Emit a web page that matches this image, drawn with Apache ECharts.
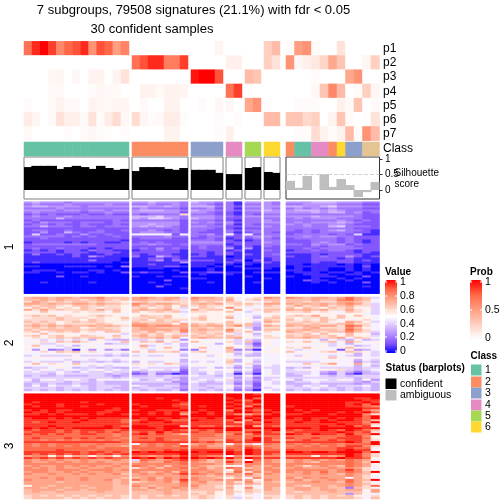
<!DOCTYPE html>
<html><head><meta charset="utf-8">
<style>html,body{margin:0;padding:0;background:#fff}#c{width:504px;height:504px}</style>
<script src="https://cdn.jsdelivr.net/npm/echarts@6/dist/echarts.min.js"></script>
</head><body><div id="c"></div>
<script>
// ---------- data ----------
var titleLine1 = '7 subgroups, 79508 signatures (21.1%) with fdr < 0.05';
var titleLine2 = '30 confident samples';
var groupSizes = [13, 7, 4, 2, 2, 2, 11];
var probLabels = ['p1','p2','p3','p4','p5','p6','p7'];
var p1 = [.7,.9,1,.85,.6,.75,.8,.9,.55,.8,.75,.5,.62, 0,0,0,0,0,0,0, 0,0,0,.05, 0,0, 0,0, .25,.35, .02,.5,.55,.03,0,0,.15,0,0,0,0];
var p2 = [0,0,0,0,0,0,0,0,0,0,0,0,0, .7,.8,.9,.9,.65,.65,.85, 0,0,0,0, .08,.08, 0,0, .25,.15, .55,.04,.08,.12,.22,.45,.3,0,0,.05,.25];
var p3 = [0,0,0,.04,.05,0,.04,0,.06,.06,0,.06,.15, 0,0,0,0,0,0,0, .95,1,1,.8, 0,0, .35,.3, 0,0, 0,0,0,.02,0,0,0,.45,.55,0,0];
var p4 = [0,0,0,.03,.03,0,0,0,.02,.04,.03,.03,0, 0,.06,.06,.03,.06,.06,.05, 0,0,0,0, .7,.85, 0,0, 0,0, 0,0,0,.04,.3,.6,.35,0,.02,.25,.05];
var p5 = [.02,0,0,.03,.06,.03,.03,0,.06,.04,.03,.05,.05, 0,.03,0,0,.06,.06,0, 0,.02,0,.04, .04,0, .45,.55, .01,0, 0,.02,.02,.02,0,0,.07,.03,.3,0,.03];
var p6 = [.1,.05,0,.03,.15,.08,.08,.03,.15,.02,.1,.18,.04, .18,.05,.02,.03,.1,.1,.02, 0,0,0,.02, 0,.02, 0,0, .35,.35, .3,.3,.2,.25,0,.06,.3,.03,0,.01,.15];
var p7 = [.03,0,0,0,0,.02,0,.03,.04,.02,.01,0,.02, 0,0,0,0,.06,.06,0, 0,0,0,.02, .08,0, 0,0, 0,0, 0,.02,.02,.18,.06,.02,.06,.35,.02,.55,.35];
var probRows = [p1,p2,p3,p4,p5,p6,p7];
var sampleClass = [1,1,1,1,1,1,1,1,1,1,1,1,1, 2,2,2,2,2,2,2, 3,3,3,3, 4,4, 5,5, 6,6, 2,1,1,4,4,2,6,3,3,7,7];
var silhouette = [.75,.79,.79,.79,.69,.75,.79,.75,.69,.79,.72,.66,.69, .62,.75,.75,.75,.69,.66,.72, .66,.66,.66,.56, .52,.52, .72,.75, .59,.56, .30,.07,.46,0,.52,.10,.36,.16,-.23,-.07,.26];
var valueTicks = ['1','0.8','0.6','0.4','0.2','0'];
var probTicks = ['1','0.5','0'];
var classTicks = ['1','2','3','4','5','6'];
var statusNames = ['confident','ambiguous'];
var blockNames = ['1','2','3'];
// each text row = one band of signatures, one hex digit per sample (value = digit / 15)
var heat1 = [
"4544434444444 4454443 5443 31 44 43 44455544433",
"3433343333433 3343343 4432 31 33 43 33444433322",
"4554444344444 5544543 5553 32 44 44 55445644433",
"3333433333333 3433332 3342 31 33 43 34343433322",
"4444344344344 4555443 5443 32 44 54 45554543333",
"3433333233433 4444442 4432 21 33 44 44454553423",
"2323222322322 3233339 3332 21 32 33 33333333322",
"3433343333333 5556443 4443 32 44 44 44454444322",
"3333533333333 5466543 5443 22 33 33 34344433322",
"2322222222232 3333332 3332 21 33 43 33333343232",
"3243332333233 4444442 4343 42 33 44 34344454322",
"2332322322232 4454442 3332 31 32 33 43433443222",
"3353332332333 4545432 4433 22 33 43 33433563332",
"2222222222222 3333332 3332 21 22 33 33333333222",
"2332232223223 3343232 3322 32 33 33 32323453321",
"2242253233222 3444332 3222 31 23 32 22323333221",
"2622322422322 7777727 3342 72 72 33 23333232611",
"3333323232232 3333433 3233 22 34 43 33434433222",
"2232222222222 2333322 2232 12 23 32 23333323222",
"2222222222221 2222222 3332 21 12 33 22233323212",
"1222212122112 2323222 4444 22 22 43 22234323212",
"2333333332222 3343323 3333 12 22 33 33243442322",
"2222222222222 2222222 2322 21 21 32 22232333222",
"2322322212122 2324232 2322 41 41 22 22323333322",
"1212122132211 1223221 2222 12 11 32 12232332122",
"2222122212221 2222221 2212 21 11 22 22222222121",
"1311212111211 2122211 1212 21 21 23 11121222211",
"1111112142111 3115321 2211 01 11 22 21123224212",
"1111111111110 1122121 1111 11 11 12 11122212111",
"1111111131110 1124132 2221 12 02 12 11122222121",
"1211111111101 1111114 1111 21 11 21 11121122111",
"0000000000000 1121110 1110 10 10 11 11011101010",
"1100011110103 1111221 1101 01 00 11 01111111020",
"0000000000000 0011000 0010 00 11 10 01011001010",
"0111000011010 0000010 0010 00 00 00 11011001010",
"1100101101002 1211002 1122 11 01 11 01110110101",
"0000000000000 0000000 0100 10 00 00 00111001100",
"0000200100000 1001011 0000 00 10 00 10011100020",
"0000000000000 0000000 1100 00 00 10 00010010100",
"0000000000000 0000200 0000 00 00 00 00211001000",
"0010000010000 0010000 0010 00 01 00 00010100020",
"0000000000000 0000100 0000 00 00 00 00000000000",
"0000000000000 0002000 0000 00 00 00 00000000010",
"0000000000000 0000001 0000 00 00 00 00000000000",
"0000000000000 0000000 0000 00 00 00 00000000000",
"0000000000000 0000000 0000 00 00 00 00000000000"
];
var heat2 = [
"abbabbabbcaaa bcbabb6 cbba a7 79 cb cbabbabdba6",
"aababaa9aba9a bbaaba9 baaa b8 9a aa aaabaacdba7",
"9ba9a9aa9a998 9a99999 a9a9 a9 87 9a aa9a99bba97",
"bbabaabbabaa9 cbabba9 abab 9a a9 bb babababcb96",
"a9aa98aa9a998 b9a9a8a 9a99 89 97 a9 9b9ab9ab996",
"8a9a898a98998 9a89a86 8a98 c8 77 99 a8a98a9a886",
"b9b9a99a9b9a8 abaab97 b9aa 8b 79 aa babab99b986",
"88a87898997a8 a89a9a6 9988 a8 67 a9 99a8987a986",
"8888888888887 8888887 8888 87 77 88 88888878876",
"9a9a89889a988 8a99a87 8988 97 76 89 9a9b88a8a87",
"8999a9998988a 99a9a88 9a88 b7 85 9a 9899a8a8887",
"9999a998a9889 9a8a999 9a88 88 87 a9 a898a978897",
"a9a989a9a9887 a99a9a7 8888 a8 86 ba 99a9a88ba86",
"9a9a89999a988 bbaaa8b a9a9 a9 a5 98 aa9a99ab997",
"abababaababa9 ccbccbb babb ac a5 ba bababb9dc97",
"9a9a9aa89a997 abbaaab aa9a 98 64 99 99ab999ca87",
"a9aaaaa9aaa98 abbbbac abaa c9 84 aa aabaaa9db97",
"9a89a9a897aa8 a9b9a9c aa99 b9 a7 98 ba9a9aaca96",
"87a7887878776 9a9a896 9a9a 76 85 87 99a7a87a885",
"9a89a88a987a7 ab9a9aa a9a9 a9 86 98 a9aa9a8a886",
"8989a9a9aa898 9aab9b7 abaa ab 87 99 aaba9ab7a97",
"7767676758655 6676874 8777 86 65 87 87875765756",
"8897a9b98877a 8a9b897 a887 96 a4 87 98a89a7b978",
"7766777777566 7777675 7775 86 52 87 78877675777",
"8a77675787877 7b67775 7877 88 63 87 78778677567",
"8787768787877 8978a86 8a77 b7 95 78 98a8878a877",
"7473461747463 7767873 3777 a3 41 78 76777728457",
"8798a9a897878 a8a99a7 9a87 a6 86 88 a8789a8a986",
"7777787777676 7777776 7778 85 65 77 77877777576",
"6766667666565 6766775 7768 76 55 77 76877676576",
"7888788787777 8778877 8877 87 87 77 88878a88877",
"7777767767767 7777775 7777 95 76 77 77777777576",
"6766675665656 5766775 6767 a5 75 77 66667777465",
"8a8987a787877 9897a96 7887 97 96 87 87a89b78b86",
"7777877767677 7877775 8777 75 74 76 77777877575",
"5667875665655 6766664 6675 64 64 66 56586666566",
"7687677678676 7677673 6787 86 73 76 67878896567",
"6766765766766 4565552 6676 84 63 76 66675465356",
"6665766666565 2363312 6576 61 51 76 56674363155",
"5655655566545 5565665 7665 65 85 77 55776565666",
"6666666666656 6666654 6666 74 63 66 66666666566",
"7578678658777 7567564 6767 95 64 67 75777687584",
"6566656656555 6666644 7656 64 53 76 56676666546",
"5656556556555 5555553 6555 63 52 76 55565555455",
"5757667656665 7655664 6566 85 62 77 65767566675",
"6666566656655 5666654 6656 74 53 67 66676656565",
"5656565656565 6565563 6565 63 41 76 56565656565"
];
var heat3 = [
"fffffffffffff fffffff ffff ff fe ff fffffffffff",
"fffffffffffff fffffff ffff ff ff ff fffffffffff",
"fffffffffffff fffefff ffff ef fd ff ffffffffeef",
"fffffffffffff fffffef ffff fe df ff fffffffffee",
"fefffffefffff ffffffe ffff ef ef ff fffffffeefe",
"efffeffffefff effffed ffff fe ed ff fffffffefdf",
"feffeffefffff fefffee feff ef cf ff effffffeedc",
"fffffffffffef ffffffe ffff fe fe ff fffffffffee",
"efefeeffffeef effeeef feff cf ed ef fefefffffdb",
"feefeffffeeff ffefefd efef ef fe fe ffefffefefd",
"eefefeeefeffe efefefb ffef ec bd ef eefffefffc9",
"fffffffffffff fffffff ffff ff ef ff fffffffffdf",
"effefefefeeee fefeefe eefe fe fe fe fefeefefedf",
"eeeeeeefeeeed deffedd feee df cf ee eefefeffeda",
"edefeefeeeeed efeefee eeee eb ed fe efeeffeeecf",
"eeeeeeeeeeeee eeeeeee eeee ee ee ee eeeeeefeed9",
"eeefeeeeeefed ffeeffa edde cd fb ed eeeefeefde8",
"fefefefffffef fffefff ffff ff ff ff fffefffffef",
"edeededeeedde eeeefed dede ff dd ef edeefedfeda",
"deeededededed dedfdee edde dd ef ed deeeeefede9",
"edededdeeddcd efdedca dddc ce ce ee fedfeedfddf",
"dddddddddddcd ddddddd dddc dd dd dd dddddddeec8",
"dedddedededdc dededdd dccc dd df ed eddeddeeed8",
"ddcdcdcddcdcd dddedcd dccb ed ef ec cdeddedeec9",
"eeeeeeeeeeeed eeeeeee eded ee ee ee eeeeeeefecf",
"dcdcdddccdccc 7cdcdd8 bccb 8c a7 dc dcdcddcdddf",
"dcdcdcdcdcccb dcdcdce cdbb cd dc cc cdcdcdceec9",
"dddddddddcddd ddddddd ddcc dd ed dc ddddddeedd7",
"ddddedddcdddd cdddede eeee ed fe dd edddddefee8",
"eeeeeeedeeded fefefff feff fe fe ee ffeffefffdf",
"edededededede eeeeeef eeee fe fe ed eeeeeeefec9",
"bcc8c8bb8bb7c dcbcdce edcc 7c bc cc ccc8cbcfec9",
"ededededededd fefdfef fefe fd fe ee eeeeeefeed8",
"cbcbcbbcbbbcb 6dcbcde dcab cb 8d cb bcbcbcbdcb8",
"cbbcbcbcbcbbb acbbdcd cbab ec fc cb bcbacccdcaf",
"cccccccccccbc ccccccd cccb cb cc cc cccccccdcb8",
"bcbbcbcbcbbcb dcbcacc cbaa 87 cb bc cb9bcbadcb8",
"cbcbcbbcbbcbb 9bcaccd bcab dc ab cb bcbbbcbcb97",
"cccbcccbcccbc ccccccc ccbb 8c cb cc cccccbcec98",
"bccbbcbcbbcbb cbabcad cbcb 9d 9c bc cbcbdbcdcaf",
"cbbcbbcbcbbca bcbcbce dcbc cb da cb bbcbcbacba8",
"bbbbbbbbbbbbb bbbbbbc bbab ab ba bb bbbbbbbcb97",
"bbcbcbbcbbbba abcacbc cbba 8a 7c bb cacbcbb7b97",
"cbbbcbbcbbcab dbcbcbe cbbc bc b8 cb bcabbcbdbaf",
"bbbbabbbbbbab 9abbcad bcaa b9 c9 ba abbcbbadb97",
"bbbbbbbbbbbab bbbbbbc bbaa ba ba bb bbbbbbbcba8",
"8bbabbbabbbaa cbabbbc caa9 a7 97 bb ba9bbabcb9d",
"bbabbabbabbaa bacabcb baa9 b8 c8 ba abbabaa3a97",
"abbbabbabbbaa bbabbab aaaa a8 a9 ba abbabbabb8b",
"abaabaaaabaaa aaaabaa 99a8 a9 a9 aa a9aaabaaa8b",
"aaaaaaaaaaaaa aaaabaa a9a8 a7 97 aa aaaaaaa4a87",
"9a9a9a9a9a9a9 a9a9a9a 9a98 97 87 99 9a9a9a9a879",
"9aaaa9a9a9aa9 a9aaaaa 9a97 96 97 a9 9a9a9aaa97a"
];
// ---------- layout ----------
var W = 504;
var groupX = [[24,129],[132,188],[191,223],[226,242],[245,261],[264,280],[286,379.5]];
var classColors = ['#66C2A5','#FC8D62','#8DA0CB','#E78AC3','#A6D854','#FFD92F','#E5C494'];
var valueColors = ['#0000FF','#7E51FF','#B38BFF','#DCC5FF','#FFFFFF','#FFCFC0','#FF9E81','#FF6747','#FF0000'];
var probColors = ['#FFFFFF','#FFCFC0','#FF9E81','#FF6747','#FF0000'];
var FONT = '"Liberation Sans", Arial, sans-serif';

function parseRows(rows){
  return rows.map(function(r){
    var s = r.replace(/ /g,'');
    if (s.length !== sampleClass.length) throw new Error('bad row length ' + s.length + ': ' + r);
    return s.split('').map(function(c){ return parseInt(c,16)/15; });
  });
}
var heatBlocks = [parseRows(heat1), parseRows(heat2), parseRows(heat3)];

var grids=[], xAxes=[], yAxes=[], series=[], valIdx=[], probIdx=[];
function addGrid(g, xn, yn, yOpt){
  var idx = grids.length;
  grids.push({left:g.l, top:g.t, width:g.r-g.l, height:g.b-g.t, show:!!g.border, borderColor:g.border||'#000', borderWidth:g.border?(g.bw||1):0, backgroundColor:'transparent', containLabel:false});
  xAxes.push({gridIndex:idx, type:'category', data:xn, show:false, boundaryGap:true});
  yAxes.push(yOpt ? Object.assign({gridIndex:idx}, yOpt) : {gridIndex:idx, type:'category', data:yn, show:false, inverse:true});
  return idx;
}
function idxRange(n){ var a=[]; for(var i=0;i<n;i++) a.push(i); return a; }

var offset = 0;
groupSizes.forEach(function(n, gi){
  var cols = idxRange(n), xr = groupX[gi];
  var gp = addGrid({l:xr[0], r:xr[1], t:41.3, b:140.7}, cols, probLabels);
  var pd = [];
  probRows.forEach(function(row, ri){ cols.forEach(function(c){ pd.push([c, ri, row[offset+c]]); }); });
  probIdx.push(series.length);
  series.push({type:'heatmap', xAxisIndex:gp, yAxisIndex:gp, data:pd, silent:true, animation:false});
  var gc = addGrid({l:xr[0], r:xr[1], t:142, b:156}, cols, ['Class']);
  series.push({type:'heatmap', xAxisIndex:gc, yAxisIndex:gc, silent:true, animation:false,
    data:cols.map(function(c){ var k=sampleClass[offset+c]; return {value:[c,0,k], itemStyle:{color:classColors[k-1]}}; })});
  var amb = gi === 6;
  var ys = {type:'value', min:-0.295, max:1.08, show:amb, position:'right', splitLine:{show:false}, axisLine:{show:false},
    axisTick:{show:amb, length:3, customValues:[0,.5,1], lineStyle:{color:'#333'}},
    axisLabel:{show:amb, margin:5.5, fontSize:10, fontFamily:FONT, color:'#000', customValues:[0,.5,1], formatter:function(v){return String(v);} }};
  var gs = addGrid({l:xr[0], r:xr[1], t:157, b:199, border: amb?'#333333':'#808080', bw:1}, cols, null, ys);
  var barColor = amb?'#BEBEBE':'#000000';
  var bs = {type:'bar', xAxisIndex:gs, yAxisIndex:gs, barWidth:9.5, silent:true, animation:false,
    itemStyle:{color:barColor},
    data:cols.map(function(c){ return silhouette[offset+c]; })};
  if (amb) bs.markLine = {silent:true, symbol:'none', animation:false, label:{show:false},
    lineStyle:{type:'dashed', color:'#D0D0D0', width:1}, data:[{yAxis:0.5}]};
  series.push(bs);
  [[201.7,293.7],[297,391],[393.7,499]].forEach(function(yr, bi){
    var rows = heatBlocks[bi];
    var gh = addGrid({l:xr[0], r:xr[1], t:yr[0], b:yr[1]}, cols, idxRange(rows.length));
    var d=[];
    rows.forEach(function(row, ri){ cols.forEach(function(c){ d.push([c, ri, row[offset+c]]); }); });
    valIdx.push(series.length);
    series.push({type:'heatmap', xAxisIndex:gh, yAxisIndex:gh, data:d, silent:true, animation:false, progressive:0});
  });
  offset += n;
});

// ---------- texts ----------
var elems = [];
function txt(t, x, y, size, opt){
  opt = opt||{};
  elems.push({type:'text', silent:true, z:50, x:x, y:y, rotation:opt.rot||0,
    style:{text:t, x:0, y:0, fill:'#000', font:(opt.bold?'bold ':'')+size+'px '+FONT, textAlign:opt.align||'left', textVerticalAlign:'middle'}});
}
function box(x,y,w,h,fill){
  elems.push({type:'rect', silent:true, z:50, shape:{x:x,y:y,width:w,height:h}, style:{fill:fill}});
}
txt(titleLine1, 193.5, 10, 13, {align:'center'});
txt(titleLine2, 152, 29, 13, {align:'center'});
var pYs = [49,63,77,92,106,120,134];
probLabels.forEach(function(p,i){ txt(p, 383, pYs[i], 12); });
txt('Class', 383, 149, 12);
txt('Silhouette', 394.5, 173, 10);
txt('score', 394.5, 184, 10);
[247,343,446].forEach(function(y,i){ txt(blockNames[i], 10, y, 12, {rot:Math.PI/2, align:'center'}); });
txt('Value', 385, 272, 10, {bold:true});
[282,296,310,324,337,351].forEach(function(y,i){ txt(valueTicks[i], 400, y, 10.5); });
txt('Prob', 470, 272, 10, {bold:true});
[282,310,338].forEach(function(y,i){ txt(probTicks[i], 485, y, 10.5); });
txt('Class', 470.5, 356, 10, {bold:true});
[370,382,393,405,416,427].forEach(function(y,i){
  box(471, y-5.5, 10.5, 11, classColors[i]);
  txt(classTicks[i], 485, y, 10.5);
});
txt('Status (barplots)', 385.5, 368, 10, {bold:true});
box(385.5, 378.5, 11, 10.5, '#000000');
box(385.5, 390, 11, 10.5, '#BEBEBE');
txt(statusNames[0], 400, 384, 10.5);
txt(statusNames[1], 400, 395, 10.5);
[282,296,310,324,337,351].forEach(function(y){
  box(385, y-.5, 2, 1, '#fff'); box(395, y-.5, 2, 1, '#fff');
});
[282,310,338].forEach(function(y){
  box(470, y-.5, 2, 1, '#fff'); box(480, y-.5, 2, 1, '#fff');
});

var chart = echarts.init(document.getElementById('c'), null, {renderer:'canvas', width:W, height:W});
chart.setOption({
  animation:false, backgroundColor:'#fff',
  grid:grids, xAxis:xAxes, yAxis:yAxes, series:series,
  visualMap:[
    {type:'continuous', seriesIndex:valIdx, min:0, max:1, inRange:{color:valueColors}, calculable:false, hoverLink:false, text:null, showLabel:false,
     left:385, top:280, itemWidth:12, itemHeight:73, padding:0, borderWidth:0, orient:'vertical'},
    {type:'continuous', seriesIndex:probIdx, min:0, max:1, inRange:{color:probColors}, calculable:false, hoverLink:false, text:null, showLabel:false,
     left:470, top:280, itemWidth:12, itemHeight:59, padding:0, borderWidth:0, orient:'vertical'}
  ],
  graphic:{elements:elems}
});
</script></body></html>
